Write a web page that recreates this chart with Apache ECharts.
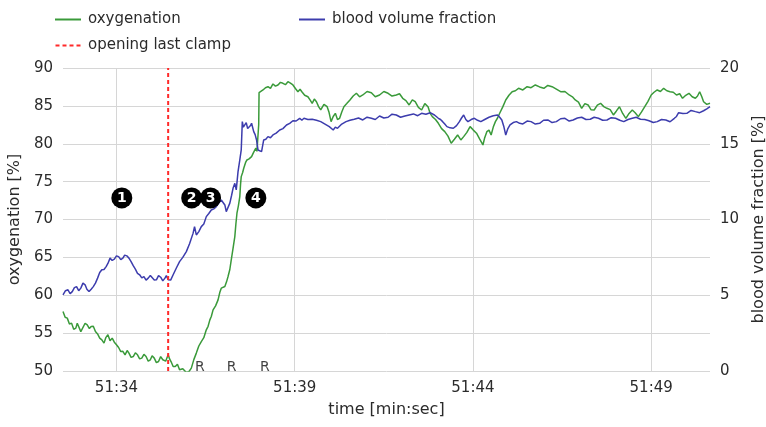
<!DOCTYPE html>
<html>
<head>
<meta charset="utf-8">
<script src="https://cdn.jsdelivr.net/npm/echarts@6/dist/echarts.min.js"></script>
<style>html,body{margin:0;padding:0;background:#fff;}#c{width:766px;height:427px;}</style>
</head>
<body>
<div id="c"></div>
<script>
// time in seconds after 51:00
const oxyTime = [92.50,92.56,92.62,92.68,92.74,92.80,92.86,92.90,92.94,93.00,93.05,93.12,93.18,93.24,93.29,93.35,93.41,93.47,93.53,93.59,93.65,93.70,93.76,93.82,93.88,93.94,94.00,94.06,94.12,94.18,94.24,94.30,94.35,94.41,94.47,94.53,94.59,94.65,94.71,94.77,94.83,94.89,94.95,95.00,95.06,95.12,95.18,95.24,95.30,95.38,95.45,95.49,95.53,95.59,95.65,95.71,95.77,95.86,95.96,96.03,96.10,96.17,96.24,96.31,96.38,96.45,96.52,96.57,96.62,96.66,96.71,96.78,96.85,96.90,96.94,96.99,97.04,97.09,97.13,97.18,97.22,97.27,97.32,97.35,97.38,97.42,97.46,97.48,97.50,97.54,97.57,97.62,97.66,97.72,97.79,97.85,97.91,97.94,97.97,97.99,98.00,98.05,98.11,98.18,98.25,98.32,98.39,98.46,98.53,98.60,98.67,98.74,98.81,98.88,98.95,99.02,99.09,99.15,99.20,99.28,99.37,99.43,99.49,99.55,99.61,99.67,99.73,99.82,99.91,99.96,100.02,100.08,100.14,100.20,100.26,100.32,100.38,100.46,100.55,100.64,100.73,100.82,100.91,101.03,101.15,101.26,101.38,101.50,101.62,101.73,101.85,101.94,102.03,102.12,102.21,102.30,102.38,102.47,102.56,102.65,102.74,102.80,102.86,102.95,103.03,103.12,103.21,103.30,103.39,103.48,103.57,103.66,103.74,103.83,103.92,104.01,104.10,104.19,104.28,104.33,104.39,104.45,104.51,104.57,104.63,104.69,104.75,104.84,104.92,105.01,105.10,105.19,105.28,105.40,105.52,105.63,105.75,105.87,105.99,106.10,106.22,106.34,106.46,106.58,106.70,106.79,106.87,106.96,107.05,107.14,107.23,107.31,107.40,107.49,107.58,107.67,107.76,107.85,107.94,108.02,108.11,108.20,108.29,108.38,108.47,108.55,108.64,108.73,108.82,108.91,109.00,109.08,109.17,109.26,109.35,109.44,109.53,109.62,109.71,109.80,109.88,109.97,110.06,110.15,110.24,110.30,110.36,110.42,110.47,110.56,110.65];
const oxyValues = [57.85,57.10,56.98,56.20,56.32,55.50,55.66,56.30,56.09,55.20,55.44,56.30,56.09,55.60,55.87,55.90,55.21,54.90,54.34,54.10,53.68,54.40,54.78,54.00,54.34,53.80,53.46,53.10,52.57,52.60,52.14,52.70,52.36,51.80,51.91,52.40,52.14,51.60,51.70,52.20,51.91,51.30,51.48,52.00,51.70,51.10,51.25,51.90,51.48,51.30,52.14,51.60,51.25,50.60,50.59,50.90,50.16,50.30,49.80,49.90,50.38,51.50,52.36,53.30,53.89,54.40,55.44,55.90,56.75,57.20,58.07,58.60,59.39,60.40,60.94,60.80,61.15,61.80,62.47,63.40,64.67,66.20,67.74,69.40,70.83,71.80,73.02,74.60,75.66,76.20,76.77,77.50,77.86,78.00,78.30,78.90,79.41,79.00,79.18,82.50,86.74,86.90,87.10,87.40,87.53,87.30,87.89,87.60,87.76,88.10,87.98,87.80,88.19,88.00,87.76,87.30,86.87,87.20,86.87,86.40,86.21,85.80,85.34,85.90,85.55,84.90,84.46,85.20,84.89,84.20,82.92,83.60,84.02,83.20,83.36,84.20,84.89,85.30,85.78,86.30,86.66,86.20,86.44,86.90,86.74,86.20,86.44,86.90,86.66,86.30,86.44,86.60,86.00,85.70,85.12,85.80,85.55,84.80,84.46,85.30,84.89,84.00,83.58,83.20,82.70,82.00,81.60,81.00,80.07,80.60,81.16,80.50,80.94,81.50,82.26,81.80,81.39,80.60,79.84,80.80,81.60,81.80,81.16,82.20,82.92,83.40,84.02,84.90,85.78,86.40,86.87,87.00,87.32,87.10,87.53,87.40,87.76,87.50,87.32,87.70,87.53,87.20,86.87,86.90,86.44,86.20,85.78,85.50,84.68,85.30,85.12,84.50,84.46,85.10,85.34,84.90,84.68,84.50,83.80,84.30,84.89,84.00,83.36,84.00,84.46,84.10,83.58,84.20,84.89,85.60,86.44,86.80,87.10,86.90,87.32,87.00,86.87,86.80,86.44,86.60,86.00,86.40,86.66,86.20,86.00,86.30,86.87,86.20,85.55,85.20,85.34];
const bvfTime = [92.50,92.57,92.64,92.70,92.76,92.82,92.88,92.94,93.00,93.06,93.12,93.17,93.23,93.29,93.35,93.41,93.47,93.53,93.59,93.65,93.71,93.76,93.82,93.88,93.94,94.00,94.06,94.12,94.18,94.23,94.29,94.35,94.41,94.47,94.53,94.59,94.65,94.71,94.77,94.83,94.89,94.95,95.00,95.06,95.12,95.18,95.24,95.30,95.36,95.40,95.45,95.52,95.59,95.68,95.77,95.86,95.96,96.05,96.15,96.19,96.24,96.31,96.38,96.45,96.52,96.59,96.66,96.73,96.80,96.87,96.94,96.99,97.04,97.08,97.13,97.18,97.23,97.27,97.32,97.36,97.41,97.46,97.50,97.53,97.56,97.60,97.64,97.68,97.72,97.76,97.79,97.85,97.89,97.93,97.97,98.02,98.07,98.13,98.19,98.25,98.32,98.39,98.48,98.58,98.67,98.77,98.86,98.95,99.04,99.14,99.20,99.26,99.37,99.49,99.61,99.73,99.85,99.97,100.08,100.14,100.20,100.32,100.44,100.55,100.67,100.79,100.91,101.03,101.15,101.26,101.38,101.50,101.62,101.73,101.85,101.97,102.09,102.21,102.33,102.45,102.56,102.68,102.80,102.92,103.03,103.09,103.15,103.21,103.27,103.36,103.45,103.54,103.62,103.68,103.74,103.80,103.86,103.95,104.04,104.13,104.22,104.33,104.45,104.57,104.69,104.75,104.81,104.87,104.92,104.98,105.04,105.13,105.22,105.31,105.40,105.52,105.63,105.75,105.87,105.98,106.10,106.22,106.34,106.46,106.58,106.70,106.81,106.93,107.05,107.17,107.29,107.40,107.52,107.64,107.76,107.88,108.00,108.12,108.23,108.35,108.47,108.58,108.70,108.82,108.94,109.06,109.17,109.29,109.41,109.53,109.65,109.71,109.77,109.89,110.00,110.12,110.24,110.36,110.47,110.56,110.65];
const bvfValues = [5.03,5.30,5.36,5.10,5.24,5.50,5.57,5.30,5.47,5.80,5.69,5.40,5.24,5.40,5.57,5.80,6.13,6.50,6.68,6.70,6.89,7.10,7.45,7.30,7.38,7.60,7.55,7.35,7.45,7.65,7.60,7.45,7.22,6.95,6.72,6.45,6.35,6.15,6.23,6.00,6.13,6.30,6.19,6.00,6.02,6.30,6.19,5.95,6.13,6.30,6.02,6.00,6.35,6.80,7.22,7.50,7.88,8.40,9.10,9.53,8.98,9.20,9.53,9.70,10.19,10.40,10.63,10.70,10.85,11.10,11.29,11.40,10.96,10.52,10.80,11.08,11.60,12.06,12.39,11.95,13.16,13.93,14.59,16.46,16.10,16.02,16.39,16.00,15.91,16.20,16.35,15.80,15.60,15.25,14.59,14.70,14.48,15.25,15.30,15.47,15.40,15.58,15.70,15.91,16.00,16.24,16.35,16.52,16.50,16.68,16.55,16.68,16.60,16.62,16.55,16.46,16.30,16.13,15.91,16.10,16.02,16.30,16.46,16.55,16.62,16.70,16.57,16.75,16.68,16.60,16.83,16.70,16.75,16.95,16.90,16.75,16.83,16.90,16.97,16.85,17.01,16.95,17.05,16.90,16.68,16.60,16.46,16.30,16.13,16.05,16.02,16.20,16.46,16.70,16.90,16.60,16.46,16.60,16.68,16.55,16.46,16.60,16.75,16.85,16.90,16.75,16.57,16.10,15.58,16.00,16.24,16.40,16.46,16.35,16.31,16.50,16.46,16.30,16.35,16.55,16.57,16.40,16.46,16.65,16.68,16.50,16.57,16.70,16.75,16.60,16.62,16.75,16.68,16.55,16.57,16.72,16.68,16.55,16.46,16.60,16.68,16.75,16.62,16.60,16.52,16.40,16.46,16.60,16.57,16.45,16.68,16.80,17.05,17.00,17.01,17.20,17.12,17.05,17.18,17.30,17.45];
const clampTime = 95.45;
const markerTimes = [94.15, 96.11, 96.64, 97.91];
const markerLevel = 72.85;
const markerLabels = ['1','2','3','4'];
const rTimes = [96.34, 97.23, 98.16];
const rLevel = 50.45;
const xTicks = [94, 99, 104, 109];
const yLeftRange = [50, 90, 5];
const yRightRange = [0, 20, 5];

const GREEN = '#3a9a3a', BLUE = '#3c3cad', RED = '#ff2a2a';
const FONT = 'DejaVu Sans';
const TXT = '#2b2b2b';
const chart = echarts.init(document.getElementById('c'));
const fmtTime = v => '51:' + String(Math.round(v) - 60).padStart(2, '0');
const LINE_ICON = 'path://M0,0H26V2H0Z';
const DASH_ICON = 'path://M0,0H4V2H0Z M7,0H11V2H7Z M14,0H18V2H14Z M21,0H25V2H21Z';

chart.setOption({
  animation: false,
  backgroundColor: '#fff',
  textStyle: { fontFamily: FONT },
  grid: { left: 63, right: 56, top: 68, bottom: 56, show: false, containLabel: false, outerBoundsMode: 'none' },
  legend: [
    { left: 50, top: 7, orient: 'vertical', itemWidth: 26, itemHeight: 2, itemGap: 11,
      textStyle: { fontFamily: FONT, fontSize: 15, color: TXT, padding: [0, 0, 0, 2] },
      data: [{ name: 'oxygenation', icon: LINE_ICON }, { name: 'opening last clamp', icon: DASH_ICON }] },
    { left: 294, top: 7, itemWidth: 26, itemHeight: 2,
      textStyle: { fontFamily: FONT, fontSize: 15, color: TXT, padding: [0, 0, 0, 2] },
      data: [{ name: 'blood volume fraction', icon: LINE_ICON }] }
  ],
  xAxis: {
    type: 'value', min: 92.5, max: 110.65,
    name: 'time [min:sec]', nameLocation: 'middle', nameGap: 31,
    nameTextStyle: { fontFamily: FONT, fontSize: 16, color: TXT },
    axisLine: { show: false },
    axisTick: { show: false, customValues: xTicks },
    axisLabel: { customValues: xTicks, formatter: fmtTime, fontFamily: FONT, fontSize: 15, color: TXT, margin: 10 },
    splitLine: { show: true, lineStyle: { color: '#d6d6d6', width: 1 } }
  },
  yAxis: [
    { type: 'value', min: yLeftRange[0], max: yLeftRange[1], interval: yLeftRange[2],
      name: 'oxygenation [%]', nameLocation: 'middle', nameGap: 33, nameRotate: 90,
      nameTextStyle: { fontFamily: FONT, fontSize: 16, color: TXT },
      axisLine: { show: false }, axisTick: { show: false },
      axisLabel: { fontFamily: FONT, fontSize: 15, color: TXT, margin: 10 },
      splitLine: { show: true, lineStyle: { color: '#d6d6d6', width: 1 } } },
    { type: 'value', min: yRightRange[0], max: yRightRange[1], interval: yRightRange[2],
      name: 'blood volume fraction [%]', nameLocation: 'middle', nameGap: 41, nameRotate: 90,
      nameTextStyle: { fontFamily: FONT, fontSize: 16, color: TXT },
      axisLine: { show: false }, axisTick: { show: false },
      axisLabel: { fontFamily: FONT, fontSize: 15, color: TXT, margin: 10 },
      splitLine: { show: false } }
  ],
  series: [
    { name: 'oxygenation', type: 'line', yAxisIndex: 0, symbol: 'none', clip: true,
      lineStyle: { color: GREEN, width: 1.5 }, itemStyle: { color: GREEN },
      data: oxyTime.map((t, i) => [t, oxyValues[i]]), z: 3 },
    { name: 'blood volume fraction', type: 'line', yAxisIndex: 1, symbol: 'none', clip: true,
      lineStyle: { color: BLUE, width: 1.5 }, itemStyle: { color: BLUE },
      data: bvfTime.map((t, i) => [t, bvfValues[i]]), z: 3 },
    { name: 'opening last clamp', type: 'line', yAxisIndex: 0, symbol: 'none',
      lineStyle: { color: RED, width: 2, type: [4, 3] }, itemStyle: { color: RED },
      data: [[clampTime, yLeftRange[0]], [clampTime, yLeftRange[1]]], z: 4 },
    { name: 'markers', type: 'scatter', yAxisIndex: 0, symbol: 'circle', symbolSize: 21,
      itemStyle: { color: '#000', opacity: 1 }, z: 6, emphasis: { disabled: true },
      label: { show: true, position: 'inside', color: '#fff', fontFamily: FONT, fontSize: 14, fontWeight: 'bold',
        formatter: p => markerLabels[p.dataIndex] },
      data: markerTimes.map(t => [t, markerLevel]) },
    { name: 'R', type: 'scatter', yAxisIndex: 0, symbolSize: 0, z: 6,
      label: { show: true, position: 'inside', color: '#111', fontFamily: FONT, fontSize: 14, formatter: 'R' },
      data: rTimes.map(t => [t, rLevel]) }
  ]
});
</script>
</body>
</html>
